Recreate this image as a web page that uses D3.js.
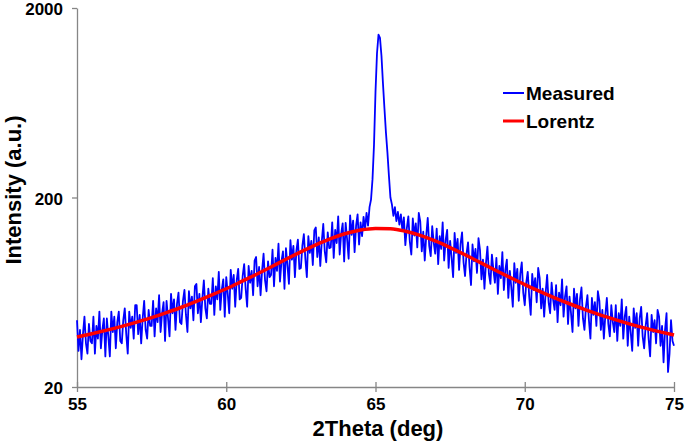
<!DOCTYPE html>
<html><head><meta charset="utf-8">
<script src="https://cdn.jsdelivr.net/npm/d3@7"></script>
<style>
html,body{margin:0;padding:0;background:#fff;}
svg{display:block;}
text{font-family:"Liberation Sans",Arial,sans-serif;font-weight:bold;fill:#000;}
</style></head>
<body>
<svg id="chart" width="685" height="444"></svg>
<script>
// ---- data ----
const xStart = 55, xStep = 0.05;
const measured = [
45,31,40,28,38,47,34,30,43,35,
34,47,30,42,36,50,32,40,46,29,
46,37,29,50,39,47,32,44,50,35,
34,45,52,38,30,50,41,47,36,54,
54,38,48,34,46,57,40,36,51,42,
42,57,37,52,44,61,39,49,56,35,
57,46,37,62,49,58,40,55,63,44,
43,57,65,48,39,64,52,60,45,68,
70,49,62,44,59,73,52,46,66,55,
55,75,48,68,58,81,51,65,74,47,
76,62,49,83,66,78,53,73,84,58,
59,77,89,66,53,87,71,82,61,93,
97,68,86,61,82,101,73,64,92,76,
78,106,68,96,82,114,72,92,104,66,
108,88,70,119,94,111,76,105,120,84,
85,111,128,95,76,125,102,118,88,134,
139,97,123,87,117,145,104,91,131,108,
109,148,96,135,115,159,100,129,146,92,
147,120,95,161,127,151,103,142,163,113,
148,125,158,136,166,142,178,195,250,380,
720,1150,1445,1390,1120,800,590,440,345,260,
200,184,160,178,150,168,144,163,134,157,
112,138,159,117,100,155,126,146,109,166,
149,104,132,93,126,156,111,98,141,116,
101,137,89,125,107,148,93,119,135,85,
118,96,76,130,102,121,83,114,131,91,
77,101,116,86,69,113,92,107,80,122,
106,74,94,66,90,110,79,70,100,83,
71,96,62,87,75,103,65,83,94,59,
82,67,53,90,71,84,57,79,91,63,
54,71,81,60,48,79,65,75,56,85,
75,52,66,47,63,78,56,49,71,58,
51,69,44,63,54,74,47,60,68,43,
60,49,39,66,52,62,42,58,67,46,
40,53,61,45,36,59,48,56,42,64,
57,40,51,36,48,59,43,37,54,44,
39,54,35,49,42,58,36,47,53,33,
47,39,31,52,41,49,33,46,53,37,
32,42,49,36,29,48,39,45,34,51,
47,33,42,27,40,49,24,30,45,35,
33
];
const lorentzX = [55,55.5,56,56.5,57,57.5,58,58.5,59,59.5,60,60.5,61,61.5,62,62.5,63,63.5,64,64.5,65,65.5,66,66.5,67,67.5,68,68.5,69,69.5,70,70.5,71,71.5,72,72.5,73,73.5,74,74.5,75];
const lorentzY = [36.7,38.2,39.9,41.8,44.0,46.5,49.4,52.7,56.6,61.0,66.0,71.9,78.5,86.0,94.4,103.3,112.5,121.4,129.1,134.8,137.4,136.8,132.8,126.3,118.0,108.8,99.7,90.9,82.9,75.8,69.4,63.9,59.1,55.0,51.4,48.2,45.5,43.1,41.0,39.2,37.6];
const xTicks = [55,60,65,70,75];
const yTicks = [20,200,2000];
const seriesNames = ["Measured","Lorentz"];
const seriesColors = ["#0000FF","#FF0000"];

// ---- chart ----
const svg = d3.select("#chart");
const x = d3.scaleLinear().domain([55,75]).range([77,674]);
const y = d3.scaleLog().domain([20,2000]).range([387,8]);

const mPts = measured.map((v,i)=>[xStart + i*xStep, v]);
const lPts = lorentzX.map((v,i)=>[v, lorentzY[i]]);

// axes
const xAxis = svg.append("g").attr("transform","translate(0,387)")
  .call(d3.axisBottom(x).tickValues(xTicks).tickSize(0).tickPadding(10).tickFormat(d3.format("d")));
xAxis.select(".domain").attr("stroke","#868686").attr("stroke-width",1.3);
xAxis.selectAll(".tick").append("line").attr("y1",-5).attr("y2",5).attr("stroke","#868686").attr("stroke-width",1.3);
xAxis.selectAll("text").style("font-size","17px").attr("dy","0.75em");

const yAxis = svg.append("g").attr("transform","translate(77,0)")
  .call(d3.axisLeft(y).tickValues(yTicks).tickSize(5).tickSizeOuter(0).tickPadding(9).tickFormat(d3.format("d")));
yAxis.select(".domain").attr("stroke","#868686").attr("stroke-width",1.3);
yAxis.selectAll(".tick line").attr("stroke","#868686").attr("stroke-width",1.3);
yAxis.selectAll("text").style("font-size","17px").attr("dy","0.4em");

// lines
const line = d3.line().x(d=>x(d[0])).y(d=>y(d[1]));
svg.append("path").datum(mPts).attr("fill","none").attr("stroke",seriesColors[0])
  .attr("stroke-width",1.8).attr("stroke-linejoin","round").attr("d",line);
svg.append("path").datum(lPts).attr("fill","none").attr("stroke",seriesColors[1])
  .attr("stroke-width",3.5).attr("d",line.curve(d3.curveMonotoneX));

// titles
svg.append("text").attr("x",378).attr("y",436).attr("text-anchor","middle").style("font-size","22px").text("2Theta (deg)");
svg.append("text").attr("transform","translate(21,190) rotate(-90)").attr("text-anchor","middle").style("font-size","22px").text("Intensity (a.u.)");

// legend
const leg = svg.append("g");
seriesNames.forEach((n,i)=>{
  const yy = 93 + i*28;
  leg.append("line").attr("x1",503).attr("x2",524).attr("y1",yy).attr("y2",yy)
    .attr("stroke",seriesColors[i]).attr("stroke-width",i? 3:2);
  leg.append("text").attr("x",526).attr("y",yy).attr("dy","0.36em").style("font-size","19px").text(n);
});
</script>
</body></html>
